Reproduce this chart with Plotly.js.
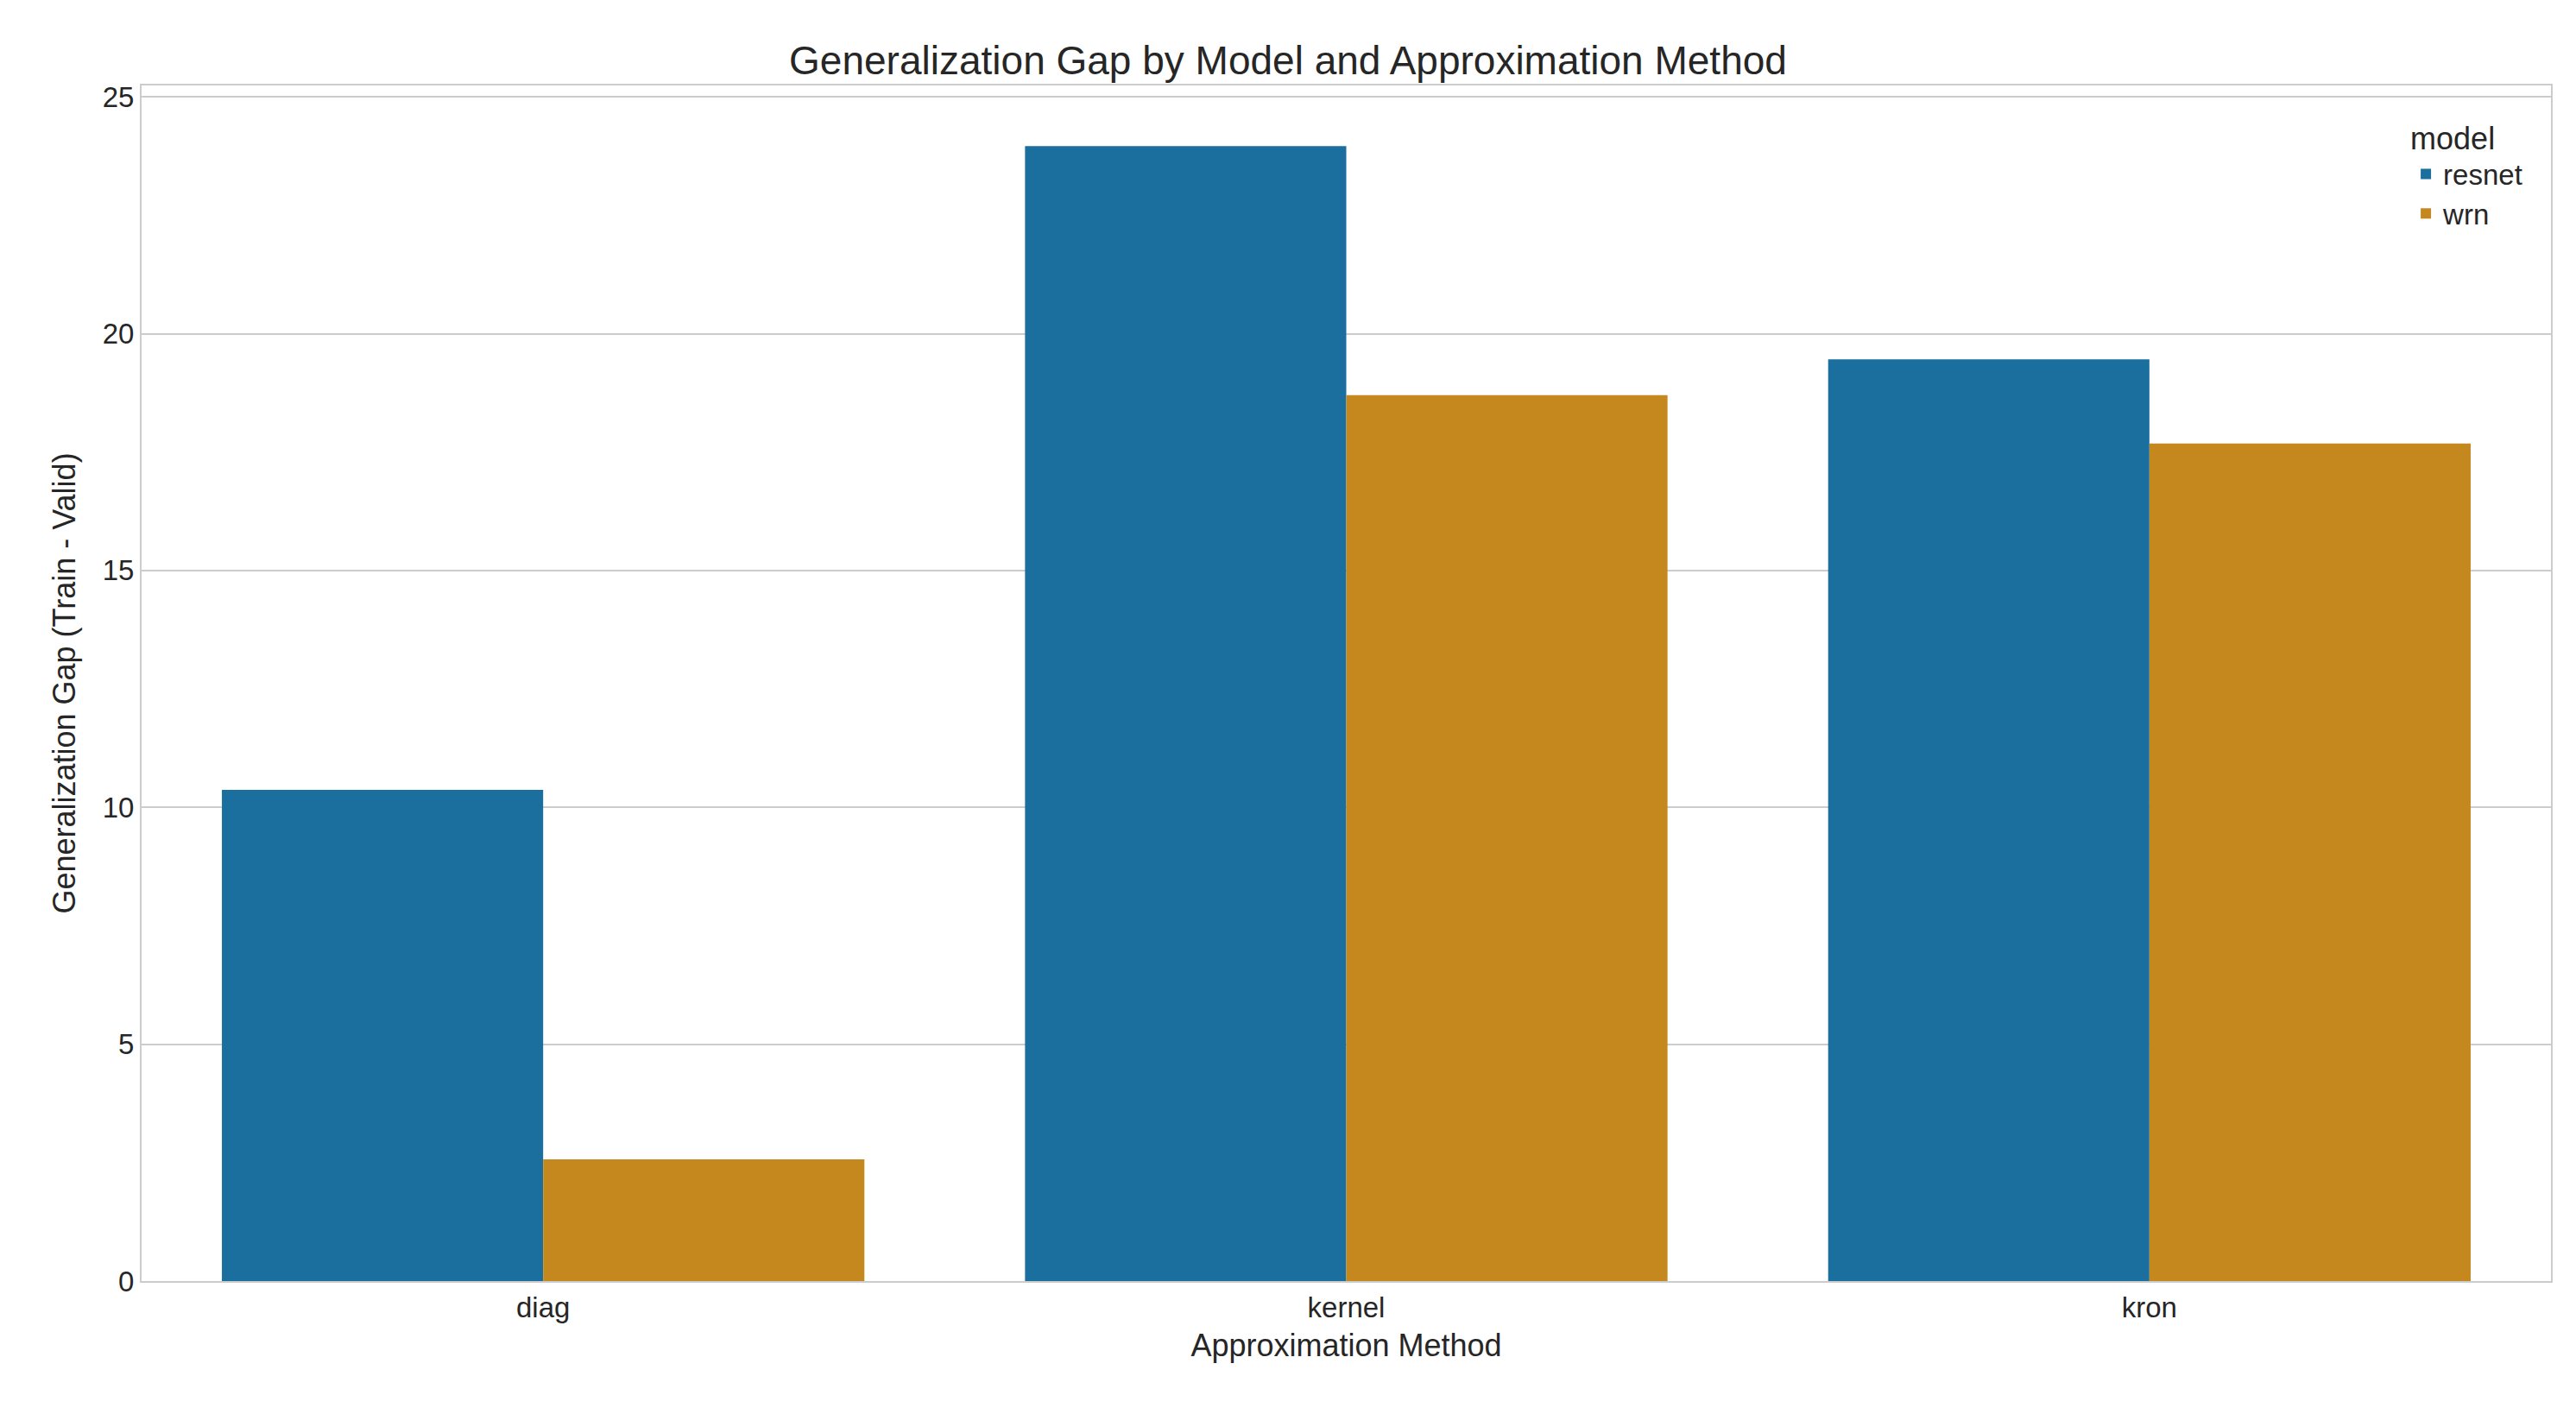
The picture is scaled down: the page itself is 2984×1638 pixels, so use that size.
<!DOCTYPE html>
<html><head><script src="https://cdn.plot.ly/plotly-3.0.1.min.js"></script>
<style>body{margin:0}</style></head><body>
<div id="c" style="width:2984px;height:1638px"></div>
<script>
const methods = ["diag","kernel","kron"];
const resnet = [10.37, 23.96, 19.46];
const wrn = [2.57, 18.7, 17.68];
const f = "Arial, Liberation Sans, sans-serif";
Plotly.newPlot("c", [
 {type:"bar", name:"resnet", x:methods, y:resnet, marker:{color:"#1a6f9e"}},
 {type:"bar", name:"wrn", x:methods, y:wrn, marker:{color:"#c4881f"}}
], {
 width:2984, height:1638, barmode:"group", bargap:0.2, bargroupgap:0,
 paper_bgcolor:"white", plot_bgcolor:"white",
 margin:{l:164, r:29, t:99, b:154},
 font:{family:f, color:"#262626", size:33},
 title:{text:"Generalization Gap by Model and Approximation Method", font:{size:46}, x:0.5, xanchor:"center", y:0.967},
 xaxis:{title:{text:"Approximation Method", font:{size:36}, standoff:14}, showgrid:false, showline:true, mirror:true, linecolor:"#cccccc", linewidth:2, ticks:"", tickfont:{size:33}},
 yaxis:{title:{text:"Generalization Gap (Train - Valid)", font:{size:36}, standoff:20}, range:[0,25.24], dtick:5, showgrid:true, gridcolor:"#cccccc", gridwidth:2, showline:true, mirror:true, linecolor:"#cccccc", linewidth:2, zeroline:false, ticks:"", tickfont:{size:33}},
 legend:{title:{text:"model", font:{size:36}}, x:0.99, xanchor:"right", y:0.98, yanchor:"top", bgcolor:"rgba(0,0,0,0)", font:{size:33}}
}, {staticPlot:true});
</script></body></html>
